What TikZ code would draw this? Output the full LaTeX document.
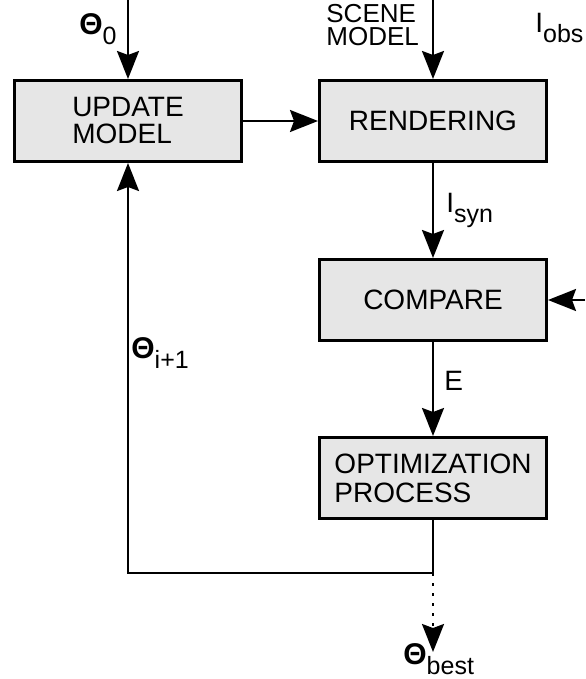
\documentclass[tikz,border=0pt]{standalone}
\usepackage{fontspec}
\setmainfont{Liberation Sans}
\usetikzlibrary{arrows.meta}
\definecolor{boxgray}{RGB}{230,230,230}
\newcommand{\subtxt}[1]{\raisebox{-5pt}{\fontsize{12.5}{13}\selectfont #1}}
\newcommand{\thetasym}{{\fontsize{15}{15}\selectfont\bfseries Θ}}

\begin{document}
\begin{tikzpicture}[x=0.5pt,y=-0.5pt,
  every node/.style={font=\fontsize{14}{13.5}\selectfont},
  block/.style={rectangle,draw=black,line width=1.5pt,fill=boxgray,
    minimum width=113.5pt,minimum height=40.5pt,inner sep=0pt,align=left},
  lbl/.style={inner sep=0pt,anchor=base west},
  flow/.style={line width=1.1pt,line join=miter,-{Stealth[length=14pt,width=11pt,inset=2pt]}}
]
\useasboundingbox (0,0) rectangle (585,679);
% blocks
\node[block] (update) at (128,121) {UPDATE\\MODEL};
\node[block] (render) at (433,121) {RENDERING};
\node[block] (compare) at (433,300) {COMPARE};
\node[block,font=\fontsize{14}{14.5}\selectfont] (optim) at (433,478) {OPTIMIZATION\\PROCESS};
% labels
\node[inner sep=0pt,anchor=north west,align=left,font=\fontsize{13}{11.5}\selectfont] (scene) at (326,4) {SCENE\\MODEL};
\node[lbl] (theta0) at (79,35) {\thetasym\subtxt{0}};
\node[lbl] (iobs) at (535,33) {I\subtxt{obs}};
\node[lbl] (isyn) at (446,213) {I\subtxt{syn}};
\node[lbl] (err) at (444,390) {E};
\node[lbl] (thetanext) at (131,358) {\thetasym\subtxt{i+1}};
\node[lbl] (thetabest) at (403,664) {\thetasym\subtxt{best}};
% free ends
\coordinate (thetain) at (128,0);
\coordinate (scenein) at (433,0);
\coordinate (obsin) at (585,300);
\coordinate (split) at (433,573);
\coordinate (bestout) at (433,652);
% connectors
\draw[flow] (thetain) -- (update);
\draw[flow] (scenein) -- (render);
\draw[flow] (update) -- (render);
\draw[flow] (render) -- (compare);
\draw[flow] (obsin) -- (compare);
\draw[flow] (compare) -- (optim);
\draw[flow] (optim) -- (split) -| (update.south);
\draw[flow,dash pattern=on 1.5pt off 3.5pt] (split) -- (bestout);
\end{tikzpicture}
\end{document}
